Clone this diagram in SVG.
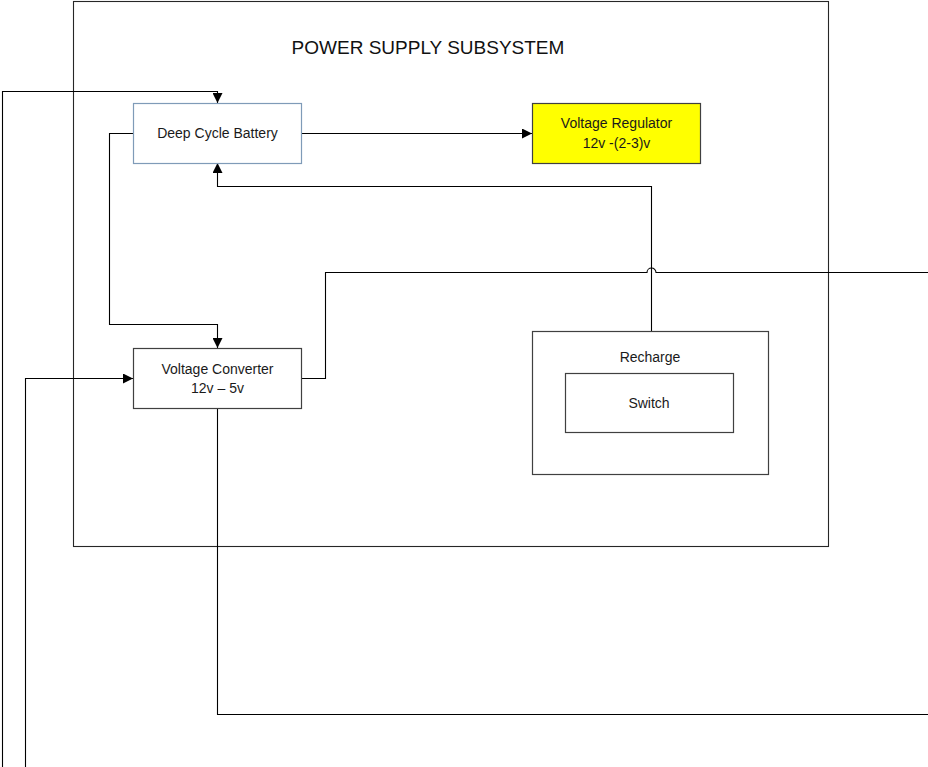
<svg xmlns="http://www.w3.org/2000/svg" width="928" height="767" viewBox="0 0 928 767">
<style>
.box{fill:#ffffff;stroke:#404040;stroke-width:1.2}
.lbl{font-family:"Liberation Sans",Arial,sans-serif;font-size:14px;fill:#1a1a1a;text-anchor:middle}
.ln{fill:none;stroke:#000000;stroke-width:1.1}
</style>
<defs>
<marker id="arr" viewBox="0 0 10 10" refX="10" refY="5" markerWidth="10" markerHeight="10" markerUnits="userSpaceOnUse" orient="auto">
<path d="M0,0 L10,5 L0,10 Z" fill="#000000"/>
</marker>
</defs>
<rect width="928" height="767" fill="#ffffff"/>
<g id="subsystem">
<rect x="73.5" y="1.5" width="755" height="545" fill="none" stroke="#262626" stroke-width="1.1"/>
<text x="428" y="54" font-family="Liberation Sans,Arial,sans-serif" font-size="19" fill="#111111" text-anchor="middle">POWER SUPPLY SUBSYSTEM</text>
</g>
<g id="connectors">
<path class="ln" d="M2.5,767 V91.5 H217.5 V103" marker-end="url(#arr)"/>
<path class="ln" d="M25.5,767 V378.5 H133" marker-end="url(#arr)"/>
<path class="ln" d="M133,133.5 H109.5 V324.5 H217.5 V348" marker-end="url(#arr)"/>
<path class="ln" d="M301,133.5 H532" marker-end="url(#arr)"/>
<path class="ln" d="M651.5,331 V186.5 H217.5 V163" marker-end="url(#arr)"/>
<path class="ln" d="M301,378.5 H325.5 V272.5 H647 A4.5,4.5 0 0 1 656,272.5 H928"/>
<path class="ln" d="M217.5,408 V714.5 H928"/>
</g>
<g id="battery">
<rect x="133.5" y="103.5" width="168" height="60" fill="#ffffff" stroke="#7f9bb8" stroke-width="1.2"/>
<text class="lbl" x="217.5" y="138">Deep Cycle Battery</text>
</g>
<g id="regulator">
<rect x="532.5" y="103.5" width="168" height="60" fill="#ffff00" stroke="#404040" stroke-width="1.2"/>
<text class="lbl" x="616.5" y="128">Voltage Regulator</text>
<text class="lbl" x="616.5" y="148">12v -(2-3)v</text>
</g>
<g id="converter">
<rect class="box" x="133.5" y="348.5" width="168" height="60"/>
<text class="lbl" x="217.5" y="374">Voltage Converter</text>
<text class="lbl" x="217.5" y="393">12v – 5v</text>
</g>
<g id="recharge">
<rect class="box" x="532.5" y="331.5" width="236" height="143"/>
<text class="lbl" x="650" y="362">Recharge</text>
</g>
<g id="switch">
<rect class="box" x="565.5" y="373.5" width="168" height="59"/>
<text class="lbl" x="649" y="408">Switch</text>
</g>
</svg>
